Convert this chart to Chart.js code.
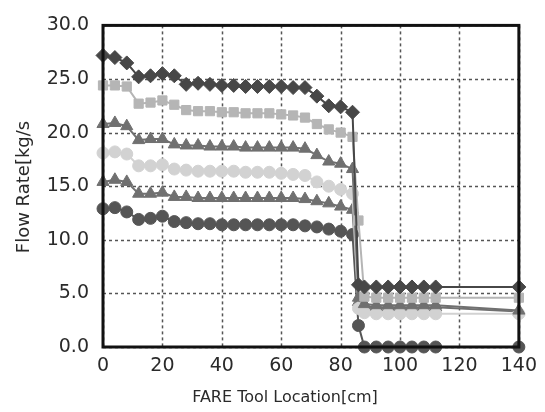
<!DOCTYPE html>
<html>
<head>
<meta charset="utf-8">
<script src="https://cdn.jsdelivr.net/npm/chart.js@4/dist/chart.umd.min.js"></script>
<style>
	html, body { margin: 0; padding: 0; background: #fff; }
	#wrap { width: 545px; height: 412px; }
</style>
</head>
<body>
<div id="wrap"><canvas id="myChart" width="545" height="412"></canvas></div>
<script>
// x positions (cm): every 4 cm up to 84, then the drop and the tail
var xLocation = [0, 4, 8, 12, 16, 20, 24, 28, 32, 36, 40, 44, 48, 52, 56, 60, 64, 68, 72, 76, 80, 84,
	86, 88, 92, 96, 100, 104, 108, 112, 140];

var seriesDiamond = [27.2, 27.0, 26.5, 25.2, 25.3, 25.5, 25.3, 24.5, 24.6, 24.5, 24.4, 24.4, 24.3, 24.3, 24.3, 24.3, 24.2, 24.2, 23.4, 22.5, 22.4, 21.9,
	5.8, 5.6, 5.6, 5.6, 5.6, 5.6, 5.6, 5.6, 5.6];
var seriesSquare = [24.4, 24.4, 24.3, 22.7, 22.8, 23.0, 22.6, 22.1, 22.0, 22.0, 21.9, 21.9, 21.8, 21.8, 21.8, 21.7, 21.6, 21.4, 20.8, 20.3, 20.0, 19.6,
	11.8, 4.7, 4.6, 4.6, 4.6, 4.6, 4.6, 4.6, 4.6];
var seriesTriangleA = [20.8, 20.9, 20.6, 19.3, 19.4, 19.4, 18.9, 18.8, 18.8, 18.7, 18.7, 18.7, 18.6, 18.6, 18.6, 18.6, 18.6, 18.5, 17.9, 17.3, 17.1, 16.6,
	4.6, 4.0, 3.9, 3.9, 3.9, 3.9, 3.9, 3.9, 3.4];
var seriesCircleA = [18.1, 18.2, 18.0, 16.9, 16.9, 17.0, 16.6, 16.5, 16.4, 16.4, 16.4, 16.4, 16.3, 16.3, 16.3, 16.2, 16.1, 16.0, 15.4, 15.0, 14.7, 14.3,
	3.6, 3.2, 3.1, 3.1, 3.1, 3.1, 3.1, 3.1, 3.1];
var seriesTriangleB = [15.4, 15.6, 15.4, 14.3, 14.3, 14.4, 14.0, 14.0, 13.9, 13.9, 13.9, 13.9, 13.9, 13.9, 13.9, 13.9, 13.9, 13.8, 13.6, 13.4, 13.1, 12.8,
	4.2, 3.8, 3.7, 3.7, 3.7, 3.7, 3.7, 3.7, 3.3];
var seriesCircleB = [12.9, 13.0, 12.6, 11.9, 12.0, 12.2, 11.7, 11.6, 11.5, 11.5, 11.4, 11.4, 11.4, 11.4, 11.4, 11.4, 11.4, 11.3, 11.2, 11.0, 10.8, 10.5,
	2.0, 0.0, 0.0, 0.0, 0.0, 0.0, 0.0, 0.0, 0.0];

var xTicks = [0, 20, 40, 60, 80, 100, 120, 140];
var yTicks = [0, 5, 10, 15, 20, 25, 30];
var xTitle = 'FARE Tool Location[cm]';
var yTitle = 'Flow Rate[kg/s';

function pts(vals) {
	var out = [];
	for (var i = 0; i < vals.length; i++) {
		out.push({x: xLocation[i], y: vals[i]});
	}
	return out;
}

function makeSet(label, vals, color, style, radius) {
	return {
		label: label,
		data: pts(vals),
		borderColor: color,
		backgroundColor: color,
		borderWidth: 2,
		pointStyle: style,
		pointRadius: radius,
		pointBorderWidth: 1,
		pointBorderColor: color,
		pointBackgroundColor: color,
		tension: 0,
		clip: false
	};
}

// dotted grid, frame and axis titles
var framePlugin = {
	id: 'frame',
	beforeDatasetsDraw: function(chart) {
		var a = chart.chartArea, c = chart.ctx;
		var xs = chart.scales.x, ys = chart.scales.y;
		c.save();
		c.strokeStyle = '#555';
		c.lineWidth = 1.5;
		c.setLineDash([3, 3]);
		xTicks.forEach(function(v) {
			var px = Math.round(xs.getPixelForValue(v)) + 0.5;
			c.beginPath(); c.moveTo(px, a.top); c.lineTo(px, a.bottom); c.stroke();
		});
		yTicks.forEach(function(v) {
			var py = Math.round(ys.getPixelForValue(v)) + 0.5;
			c.beginPath(); c.moveTo(a.left, py); c.lineTo(a.right, py); c.stroke();
		});
		c.restore();
	},
	afterDatasetsDraw: function(chart) {
		var a = chart.chartArea, c = chart.ctx;
		c.save();
		c.strokeStyle = '#111';
		c.lineWidth = 3;
		c.strokeRect(a.left, a.top, a.right - a.left, a.bottom - a.top);
		c.restore();
	},
	afterDraw: function(chart) {
		var c = chart.ctx;
		c.save();
		c.fillStyle = '#2a2a2a';
		c.textAlign = 'center';
		c.textBaseline = 'middle';
		c.font = '16px "DejaVu Sans"';
		c.fillText(xTitle, 285, 398);
		c.translate(24, 187);
		c.rotate(-Math.PI / 2);
		c.font = '18px "DejaVu Sans"';
		c.fillText(yTitle, 0, 0);
		c.restore();
	}
};

var ctx = document.getElementById("myChart").getContext("2d");
var chart = new Chart(ctx, {
	type: 'line',
	data: {
		datasets: [
			makeSet('d1', seriesDiamond, '#474747', 'rectRot', 7),
			makeSet('d2', seriesSquare, '#b5b5b5', 'rect', 6.5),
			makeSet('d3', seriesTriangleA, '#707070', 'triangle', 7),
			makeSet('d4', seriesCircleA, '#d2d2d2', 'circle', 6),
			makeSet('d5', seriesTriangleB, '#707070', 'triangle', 7),
			makeSet('d6', seriesCircleB, '#555555', 'circle', 6)
		]
	},
	options: {
		responsive: false,
		animation: false,
		layout: { padding: { left: 0, right: 18, top: 18, bottom: 0 } },
		plugins: { legend: { display: false }, tooltip: { enabled: false } },
		scales: {
			x: {
				type: 'linear',
				min: 0, max: 140,
				afterBuildTicks: function(s) { s.ticks = xTicks.map(function(v) { return {value: v}; }); },
				afterFit: function(s) { s.height = 65; },
				ticks: { color: '#2a2a2a', font: { family: 'DejaVu Sans', size: 19 }, padding: 8, maxRotation: 0 },
				grid: { display: false, drawTicks: false },
				border: { display: false }
			},
			y: {
				type: 'linear',
				min: 0, max: 30,
				afterBuildTicks: function(s) { s.ticks = yTicks.map(function(v) { return {value: v}; }); },
				afterFit: function(s) { s.width = 103; },
				ticks: { color: '#2a2a2a', font: { family: 'DejaVu Sans', size: 19 }, padding: 14,
					callback: function(v) { return v.toFixed(1); } },
				grid: { display: false, drawTicks: false },
				border: { display: false }
			}
		}
	},
	plugins: [framePlugin]
});
</script>
</body>
</html>
